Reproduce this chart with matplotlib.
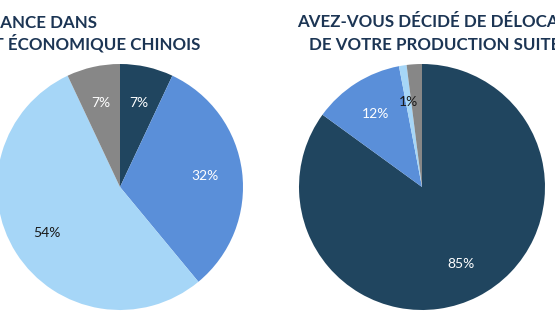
import matplotlib
matplotlib.use("Agg")
import matplotlib.pyplot as plt
import numpy as np

# gauche : confiance dans le développement économique chinois
left_values=[7, 32, 54, 7]
left_labels=["7%", "32%", "54%", "7%"]
# droite : délocalisation de la production
right_values=[85, 12, 1, 2]
right_labels=["85%", "12%", "1%", ""]

colors=["#20455f", "#5a8fd9", "#a6d6f7", "#878787"]
label_colors=["white", "white", "#1a1a1a", "white"]
title_color="#1c3554"

left_title=["QUELLE EST VOTRE CONFIANCE DANS", "LE DÉVELOPPEMENT ÉCONOMIQUE CHINOIS"]
right_title=["AVEZ-VOUS DÉCIDÉ DE DÉLOCALISER UNE PARTIE", "DE VOTRE PRODUCTION SUITE À LA CRISE ?"]

W, H=555, 330
R=123

def draw_pie(fig, cx, cy, values, labels):
	ax=fig.add_axes([(cx-R)/W, (H-cy-R)/H, 2*R/W, 2*R/H])
	wedges, texts=ax.pie(values, colors=colors, startangle=90, counterclock=False,
		radius=1, wedgeprops=dict(linewidth=0))
	for w, lab, c in zip(wedges, labels, label_colors):
		w.set_clip_on(False)
		if not lab:
			continue
		ang=(w.theta1+w.theta2)/2
		x=0.7*np.cos(np.radians(ang))
		y=0.7*np.sin(np.radians(ang))
		ax.text(x, y, lab, ha="center", va="center", color=c, fontsize=10, family="Lato")
	ax.set_xlim(-1, 1)
	ax.set_ylim(-1, 1)
	ax.set_aspect("equal")
	ax.axis("off")

def main():
	fig=plt.figure(figsize=(W/100, H/100), dpi=100)
	draw_pie(fig, 120, 187, left_values, left_labels)
	draw_pie(fig, 422, 187, right_values, right_labels)

	# titres coupés par les bords, comme dans l'original
	for i, line in enumerate(left_title):
		fig.text(200/W if i==1 else 97/W, 1-(27+23*i)/H, line, ha="right", va="baseline",
			color=title_color, fontsize=12.2, family="Lato", fontweight="bold")
	for i, line in enumerate(right_title):
		fig.text(297/W if i==0 else 309/W, 1-(27+23*i)/H, line, ha="left", va="baseline",
			color=title_color, fontsize=12.2, family="Lato", fontweight="bold")

	plt.savefig("out.png", dpi=100)
	plt.close(fig)

if __name__=="__main__":
	main()
